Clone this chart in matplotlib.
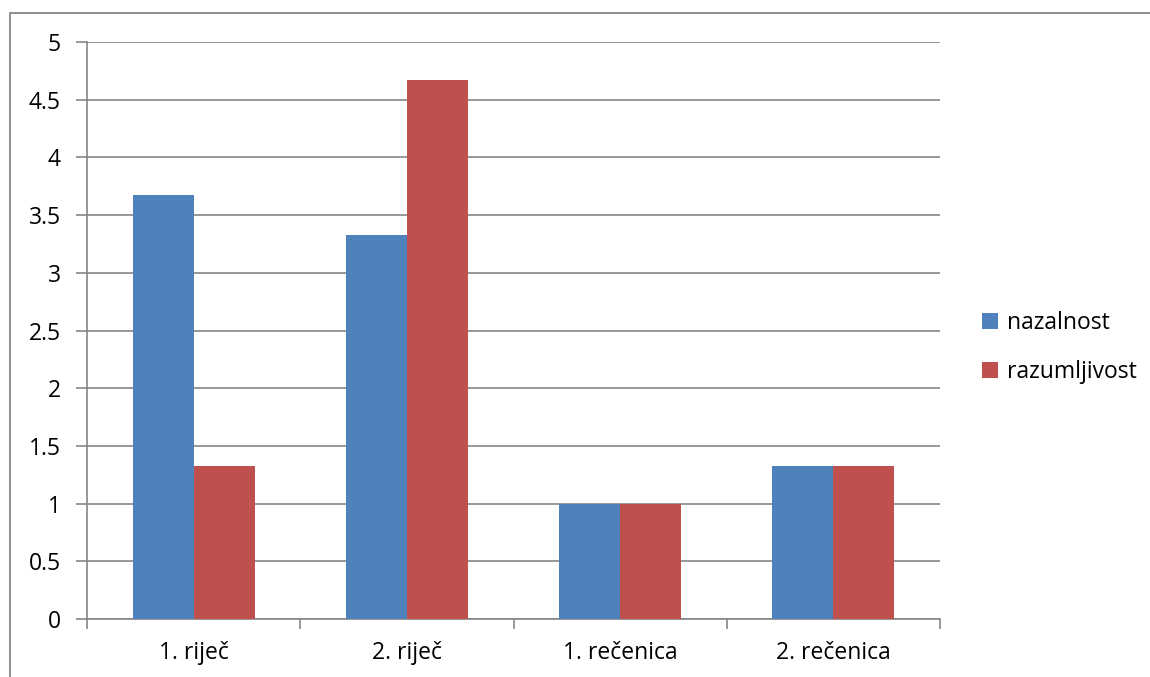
import matplotlib.pyplot as plt
import numpy as np
from matplotlib.patches import Rectangle

categories = ['1. riječ', '2. riječ', '1. rečenica', '2. rečenica']
nazalnost = [3.67, 3.33, 1.0, 1.33]
razumljivost = [1.33, 4.67, 1.0, 1.33]
series_names = ['nazalnost', 'razumljivost']
yticks = [0, 0.5, 1, 1.5, 2, 2.5, 3, 3.5, 4, 4.5, 5]
ytick_labels = ['0', '0.5', '1', '1.5', '2', '2.5', '3', '3.5', '4', '4.5', '5']

plt.rcParams['font.family'] = ['Open Sans', 'DejaVu Sans']
grey = '#868686'
fs = 16.5

fig = plt.figure(figsize=(11.5, 6.77), dpi=100)
ax = fig.add_axes([87/1150, 1-619/677, (940-87)/1150, (619-42)/677])

# outer chart border (only top and left visible in the crop)
fig.patches.append(Rectangle((10/1150, -0.1), 1.2, 1.1-13/677, transform=fig.transFigure,
                             fill=False, edgecolor=grey, linewidth=1.3, zorder=0))

x = np.arange(len(categories))
w = 1/3.5
ax.bar(x - w/2, nazalnost, w, color='#4F81BD', label=series_names[0], zorder=3)
ax.bar(x + w/2, razumljivost, w, color='#C0504D', label=series_names[1], zorder=3)

ax.set_xlim(-0.5, len(categories) - 0.5)
ax.set_ylim(0, 5)
ax.set_yticks(yticks)
ax.set_yticklabels(ytick_labels)
ax.yaxis.grid(True, color=grey, linewidth=1.2, zorder=0)
ax.set_xticks(x)
ax.set_xticklabels(categories)
ax.set_xticks(np.arange(len(categories) + 1) - 0.5, minor=True)
ax.tick_params(axis='x', which='major', length=0, pad=16, labelsize=fs)
ax.tick_params(axis='x', which='minor', length=7, color=grey, width=1.2)
ax.tick_params(axis='y', length=8, color=grey, width=1.2, pad=11, labelsize=fs)

for s in ['top', 'right']:
    ax.spines[s].set_visible(False)
for s in ['left', 'bottom']:
    ax.spines[s].set_color(grey)
    ax.spines[s].set_linewidth(1.2)

ax.legend(loc='center left', bbox_to_anchor=(1.049, 0.47), frameon=False, fontsize=fs,
          handlelength=0.7, handleheight=0.7, handletextpad=0.4, labelspacing=1.1,
          borderpad=0, borderaxespad=0)

fig.savefig('out.png', dpi=100)
